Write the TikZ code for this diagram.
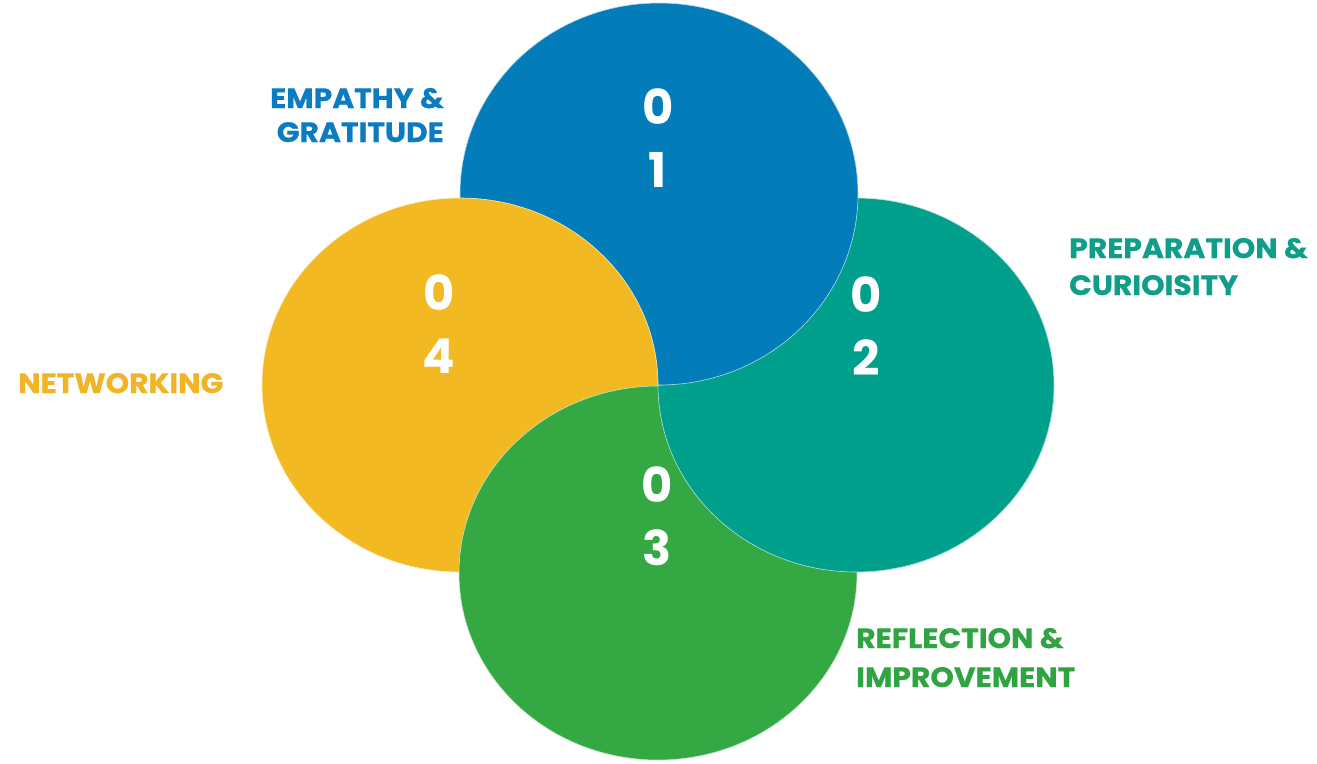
\documentclass[tikz,border=0pt]{standalone}
\usepackage{fontspec}
\setmainfont{Poppins}
\newfontfamily\lblfont[FakeStretch=1.065, FakeBold=0.6]{Poppins}
\definecolor{cblue}{HTML}{037DBA}
\definecolor{cteal}{HTML}{00A08C}
\definecolor{cgreen}{HTML}{34A843}
\definecolor{cyellow}{HTML}{F3B922}
\definecolor{tblue}{HTML}{0B7CC1}
\definecolor{tteal}{HTML}{0E9E8A}
\definecolor{tgreen}{HTML}{30A443}
\definecolor{tyellow}{HTML}{F2B325}
\tikzset{
  petal/.style={draw=white!70!#1, line width=0.6pt, fill=#1},
  digit/.style={text=white, font=\fontsize{48}{63}\selectfont\bfseries, align=center, inner sep=0pt},
  lbl/.style={font=\lblfont\fontsize{28}{35}\selectfont\bfseries, inner sep=0pt, text=#1}
}
\begin{document}
\begin{tikzpicture}[x=1pt,y=-1pt]
\useasboundingbox (0,0) rectangle (1317,763);
\fill[white] (0,0) rectangle (1317,763);
% petals
\path[petal=cteal] (856,385) ellipse [x radius=198, y radius=187];
\path[petal=cblue] (659,194) ellipse [x radius=199, y radius=191];
\path[petal=cyellow] (460,385) ellipse [x radius=198, y radius=187];
\path[petal=cgreen] (658,573) ellipse [x radius=199, y radius=187];
\begin{scope}
  \clip (640,386) rectangle (1100,600);
  \path[petal=cteal] (856,385) ellipse [x radius=198, y radius=187];
\end{scope}
% numbers
\node[digit] (n1) at (658,138) {0\\1};
\node[digit] (n2) at (866,326) {0\\2};
\node[digit] (n3) at (657,516) {0\\3};
\node[digit] (n4) at (439,324) {0\\4};
% labels
\node[lbl=tblue, anchor=base east, align=right] (l1) at (444,108) {EMPATHY \&};
\node[lbl=tblue, anchor=base east, align=right] (l1b) at (444,142) {GRATITUDE};
\node[lbl=tteal, anchor=base west] (l2) at (1069,258) {PREPARATION \&};
\node[lbl=tteal, anchor=base west] (l2b) at (1069,295) {CURIOISITY};
\node[lbl=tgreen, anchor=base west] (l3) at (856,648) {REFLECTION \&};
\node[lbl=tgreen, anchor=base west] (l3b) at (856,687) {IMPROVEMENT};
\node[lbl=tyellow, anchor=base west] (l4) at (18,393) {NETWORKING};
\end{tikzpicture}
\end{document}
